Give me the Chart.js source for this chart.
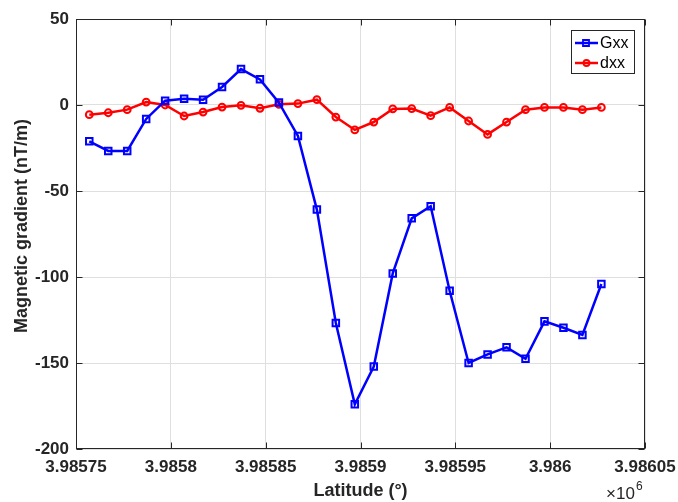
<!DOCTYPE html>
<html>
<head>
<meta charset="utf-8">
<script src="https://cdn.jsdelivr.net/npm/chart.js@4/dist/chart.umd.min.js"></script>
<style>
  html, body { margin: 0; padding: 0; background: #ffffff; }
  #wrap { width: 678px; height: 502px; position: relative; }
</style>
</head>
<body>
<div id="wrap"><canvas id="chart" width="678" height="502"></canvas></div>
<script>
// Survey line positions (latitude, projected metres) and gradient readings
const latitude = [3985757, 3985767, 3985777, 3985787, 3985797, 3985807, 3985817,
  3985827, 3985837, 3985847, 3985857, 3985867, 3985877, 3985887, 3985897,
  3985907, 3985917, 3985927, 3985937, 3985947, 3985957, 3985967, 3985977,
  3985987, 3985997, 3986007, 3986017, 3986027];
const gxx = [-21.1, -26.7, -26.7, -8.1, 2.5, 3.7, 3.1, 10.5, 20.9, 14.9, 1.4,
  -18.0, -60.8, -126.7, -174.0, -152.1, -97.9, -65.9, -58.9, -108.0, -150.0,
  -145.0, -140.9, -147.5, -125.8, -129.5, -133.7, -104.1];
const dxx = [-5.6, -4.5, -2.7, 1.7, 0.0, -6.4, -4.1, -1.2, -0.2, -1.9, 0.4,
  0.8, 3.1, -7.0, -14.5, -9.9, -2.3, -2.1, -6.2, -1.4, -9.3, -17.1, -9.9,
  -2.7, -1.4, -1.4, -2.7, -1.4];

const xTickValues = [3985750, 3985800, 3985850, 3985900, 3985950, 3986000, 3986050];
const xTickLabels = ['3.98575', '3.9858', '3.98585', '3.9859', '3.98595', '3.986', '3.98605'];
const yTickValues = [50, 0, -50, -100, -150, -200];
const yTickLabels = ['50', '0', '-50', '-100', '-150', '-200'];

const seriesNames = ['Gxx', 'dxx'];
const xTitle = 'Latitude (\u00B0)';
const yTitle = 'Magnetic gradient (nT/m)';

const FONT = '"Liberation Sans", Arial, Helvetica, sans-serif';
const AXIS = '#262626';

// Box around the plot, inward tick marks, axis titles, exponent note and legend
const decorations = {
  id: 'decorations',
  afterDraw(chart) {
    const ctx = chart.ctx;
    const a = chart.chartArea;
    const xs = chart.scales.x, ys = chart.scales.y;
    const L = Math.round(a.left) + 0.5, R = Math.round(a.right) - 0.5;
    const T = Math.round(a.top) + 0.5, B = Math.round(a.bottom) - 0.5;
    ctx.save();
    ctx.strokeStyle = AXIS;
    ctx.lineWidth = 1;
    ctx.strokeRect(L, T, R - L, B - T);
    const tl = 6;
    ctx.beginPath();
    xTickValues.forEach(v => {
      const px = Math.round(xs.getPixelForValue(v)) + 0.5;
      ctx.moveTo(px, B); ctx.lineTo(px, B - tl);
      ctx.moveTo(px, T); ctx.lineTo(px, T + tl);
    });
    yTickValues.forEach(v => {
      const py = Math.round(ys.getPixelForValue(v)) + 0.5;
      ctx.moveTo(L, py); ctx.lineTo(L + tl, py);
      ctx.moveTo(R, py); ctx.lineTo(R - tl, py);
    });
    ctx.stroke();

    // axis titles
    ctx.fillStyle = AXIS;
    ctx.font = 'bold 18px ' + FONT;
    ctx.textAlign = 'center';
    ctx.textBaseline = 'middle';
    ctx.fillText(xTitle, (a.left + a.right) / 2, 491);
    ctx.save();
    ctx.translate(22, 226);
    ctx.rotate(-Math.PI / 2);
    ctx.fillText(yTitle, 0, 0);
    ctx.restore();

    // exponent note
    ctx.font = '17px ' + FONT;
    ctx.textAlign = 'left';
    ctx.textBaseline = 'alphabetic';
    ctx.fillText('\u00D710', 606, 499);
    ctx.font = '12px ' + FONT;
    ctx.fillText('6', 636, 490);

    // legend
    const lx = 571.5, ly = 30.5, lw = 63, lh = 43;
    ctx.fillStyle = '#ffffff';
    ctx.fillRect(lx, ly, lw, lh);
    ctx.strokeStyle = AXIS;
    ctx.lineWidth = 1;
    ctx.strokeRect(lx, ly, lw, lh);
    chart.data.datasets.forEach((ds, i) => {
      const cy = 43 + i * 20;
      ctx.strokeStyle = ds.borderColor;
      ctx.lineWidth = 2.5;
      ctx.beginPath();
      ctx.moveTo(575, cy); ctx.lineTo(598, cy);
      ctx.stroke();
      ctx.lineWidth = 1.8;
      ctx.beginPath();
      if (ds.pointStyle === 'rect') {
        ctx.rect(583, cy - 3, 6, 6);
      } else {
        ctx.arc(586.5, cy, 3, 0, Math.PI * 2);
      }
      ctx.stroke();
      ctx.fillStyle = '#000000';
      ctx.font = '16px ' + FONT;
      ctx.textBaseline = 'middle';
      ctx.fillText(ds.label, 600, cy + 1);
    });
    ctx.restore();
  }
};

const pairs = (xs, ys) => xs.map((x, i) => ({ x: x, y: ys[i] }));

new Chart(document.getElementById('chart'), {
  type: 'line',
  data: {
    datasets: [
      {
        label: seriesNames[0],
        data: pairs(latitude, gxx),
        borderColor: '#0000ff',
        backgroundColor: '#0000ff',
        borderWidth: 2.5,
        pointStyle: 'rect',
        pointRadius: 4.6,
        pointBorderWidth: 2,
        pointBorderColor: '#0000ff',
        pointBackgroundColor: 'rgba(255,255,255,0)',
        tension: 0
      },
      {
        label: seriesNames[1],
        data: pairs(latitude, dxx),
        borderColor: '#ff0000',
        backgroundColor: '#ff0000',
        borderWidth: 2.5,
        pointStyle: 'circle',
        pointRadius: 3.4,
        pointBorderWidth: 2,
        pointBorderColor: '#ff0000',
        pointBackgroundColor: 'rgba(255,255,255,0)',
        tension: 0
      }
    ]
  },
  options: {
    responsive: false,
    animation: false,
    devicePixelRatio: 1,
    layout: { padding: { left: 0, top: 19, right: 33, bottom: 0 } },
    plugins: { legend: { display: false }, tooltip: { enabled: false } },
    scales: {
      x: {
        type: 'linear',
        min: xTickValues[0],
        max: xTickValues[xTickValues.length - 1],
        afterBuildTicks: s => { s.ticks = xTickValues.map(v => ({ value: v })); },
        afterFit: s => { s.height = 53; s.paddingLeft = 0; s.paddingRight = 0; },
        grid: { color: '#dfdfdf', drawTicks: false },
        border: { display: false },
        ticks: {
          padding: 8,
          color: AXIS,
          font: { family: FONT, size: 17, weight: 'bold' },
          maxRotation: 0,
          callback: (v) => xTickLabels[xTickValues.indexOf(v)]
        }
      },
      y: {
        type: 'linear',
        min: yTickValues[yTickValues.length - 1],
        max: yTickValues[0],
        afterBuildTicks: s => { s.ticks = yTickValues.slice().reverse().map(v => ({ value: v })); },
        afterFit: s => { s.width = 76; s.paddingTop = 0; s.paddingBottom = 0; },
        grid: { color: '#dfdfdf', drawTicks: false },
        border: { display: false },
        ticks: {
          padding: 7,
          color: AXIS,
          font: { family: FONT, size: 17, weight: 'bold' },
          callback: (v) => yTickLabels[yTickValues.indexOf(v)]
        }
      }
    }
  },
  plugins: [decorations]
});
</script>
</body>
</html>
